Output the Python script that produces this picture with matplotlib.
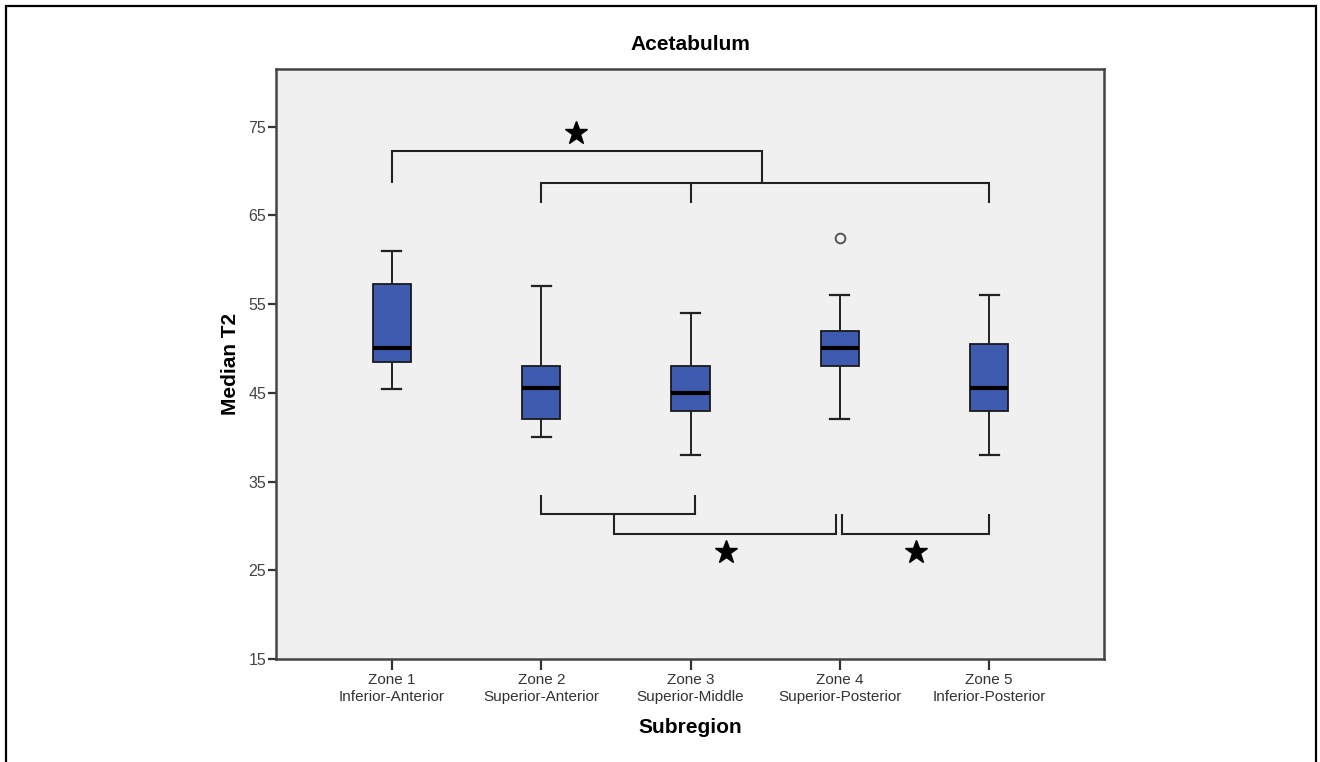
import matplotlib
matplotlib.use("Agg")
import matplotlib.pyplot as plt
from matplotlib.patches import Rectangle

# ---- data ----
zones = ["Zone 1\nInferior-Anterior", "Zone 2\nSuperior-Anterior", "Zone 3\nSuperior-Middle",
         "Zone 4\nSuperior-Posterior", "Zone 5\nInferior-Posterior"]
whis_lo = [45.4, 40.0, 38.0, 42.0, 38.0]
q1 = [48.5, 42.0, 43.0, 48.0, 43.0]
median = [50.0, 45.5, 45.0, 50.0, 45.5]
q3 = [57.3, 48.0, 48.0, 52.0, 50.5]
whis_hi = [61.0, 57.0, 54.0, 56.0, 56.0]
outliers = [[], [], [], [62.5], []]
yticks = [15, 25, 35, 45, 55, 65, 75]

# significance brackets (x in zone positions, y in T2 units)
top_bracket_x = [1, 1, 3.48, 3.48]
top_bracket_y = [68.7, 72.3, 72.3, 68.7]
mid_bracket_x = [2, 2, 5, 5]
mid_bracket_y = [66.4, 68.7, 68.7, 66.4]
mid_leg_x = [3, 3]
mid_leg_y = [68.7, 66.4]
low_a_x = [2, 2, 3.03, 3.03]
low_a_y = [33.5, 31.35, 31.35, 33.5]
low_b_x = [2.49, 2.49, 3.975, 3.975]
low_b_y = [31.35, 29.1, 29.1, 31.3]
low_c_x = [4.015, 4.015, 5, 5]
low_c_y = [31.3, 29.1, 29.1, 31.3]
star_x = [2.233, 3.238, 4.511]
star_y = [74.3, 27.1, 27.1]

plt.rcParams['font.family'] = ['Liberation Sans', 'DejaVu Sans']

W, H = 1320, 762
fig = plt.figure(figsize=(W / 100, H / 100), dpi=100)
fig.patches.append(Rectangle((6 / W, -0.05), 1310 / W, 1 - 6 / H + 0.05, transform=fig.transFigure,
                             fill=False, edgecolor='black', linewidth=1.6))

ax = fig.add_axes([276 / W, 1 - 659 / H, (1104 - 276) / W, (659 - 69) / H])
ax.set_facecolor('#F0F0F0')

positions = list(range(1, len(zones) + 1))
stats = []
for i in range(len(zones)):
    stats.append(dict(med=median[i], q1=q1[i], q3=q3[i], whislo=whis_lo[i],
                      whishi=whis_hi[i], fliers=outliers[i]))

ax.bxp(stats, positions=positions, widths=0.255, patch_artist=True,
       boxprops=dict(facecolor='#3E5BB0', edgecolor='#1a1a1a', linewidth=1.3),
       medianprops=dict(color='black', linewidth=3),
       whiskerprops=dict(color='#222222', linewidth=1.4),
       capprops=dict(color='#222222', linewidth=1.6),
       flierprops=dict(marker='o', markerfacecolor='none', markeredgecolor='#555555',
                       markersize=7, markeredgewidth=1.4))

lk = dict(color='#222222', linewidth=1.5, solid_capstyle='butt', solid_joinstyle='miter')
for xs, ys in [(top_bracket_x, top_bracket_y), (mid_bracket_x, mid_bracket_y),
               (mid_leg_x, mid_leg_y), (low_a_x, low_a_y), (low_b_x, low_b_y),
               (low_c_x, low_c_y)]:
    ax.plot(xs, ys, **lk)
ax.plot(star_x, star_y, linestyle='none', marker='*', markersize=17, color='black')

ax.set_xlim(0.223, 5.77)
ax.set_ylim(15, 81.5)
ax.set_xticks(positions)
ax.set_xticklabels(zones, fontsize=11, color='#333333', linespacing=1.25)
ax.set_yticks(yticks)
ax.set_yticklabels([str(t) for t in yticks], fontsize=11.5, color='#444444')
ax.tick_params(axis='both', direction='out', length=6, width=1.6, color='#333333')
ax.tick_params(axis='x', length=8)
ax.tick_params(axis='y', pad=1)
ax.tick_params(axis='x', pad=2)
for s in ax.spines.values():
    s.set_color('#444444')
    s.set_linewidth(1.8)

ax.set_title("Acetabulum", fontsize=15, fontweight='bold', pad=14)
ax.set_xlabel("Subregion", fontsize=15, fontweight='bold', labelpad=10)
ax.set_ylabel("Median T2", fontsize=15, fontweight='bold', labelpad=6)

fig.savefig("out.png", dpi=100)
